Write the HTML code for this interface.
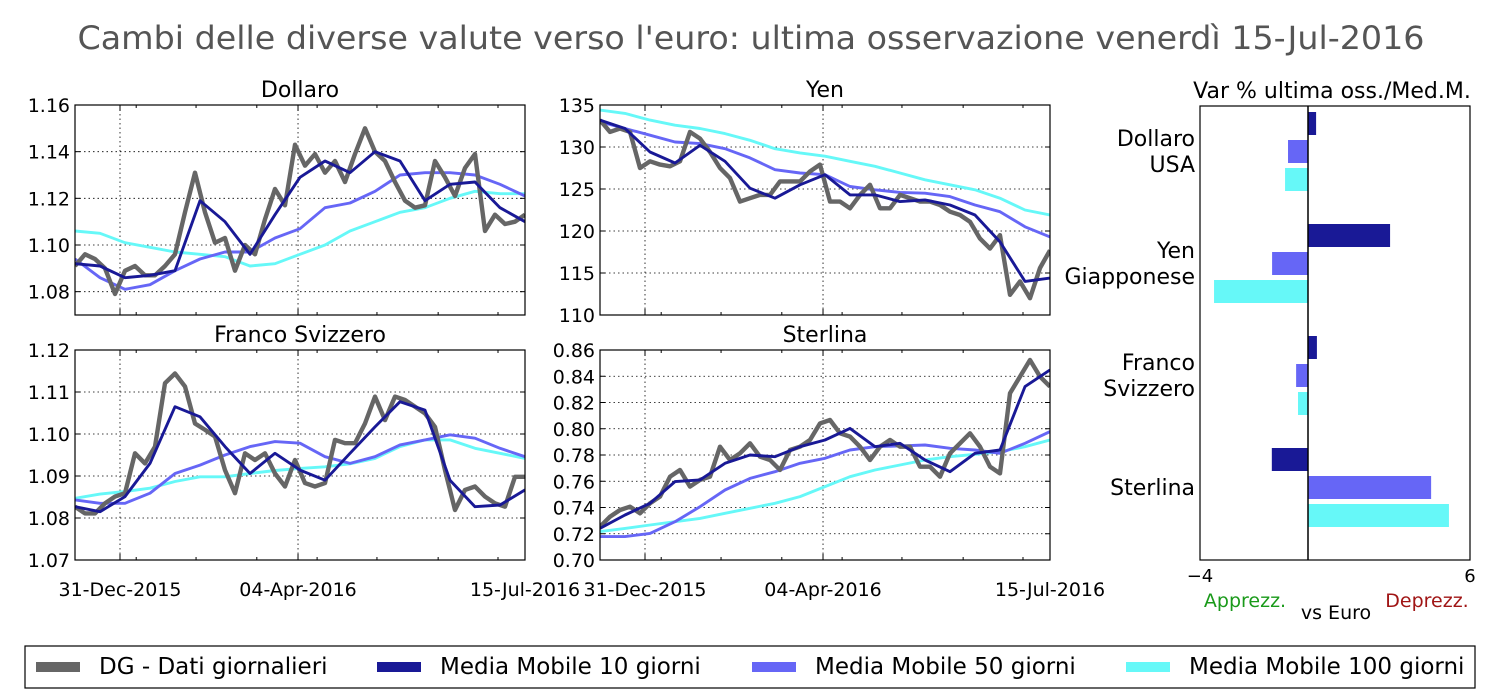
<!DOCTYPE html>
<html><head><meta charset="utf-8"><style>
html,body{margin:0;padding:0;background:#fff;}
svg{display:block;font-family:"DejaVu Sans","Liberation Sans",sans-serif;}
</style></head><body>
<svg id="fig" width="1500" height="700" viewBox="0 0 1500 700" xmlns="http://www.w3.org/2000/svg">
<text x="751" y="49" font-size="32" fill="#555" text-anchor="middle" textLength="1347" lengthAdjust="spacingAndGlyphs">Cambi delle diverse valute verso l'euro: ultima osservazione venerdì 15-Jul-2016</text>
<g id="panels"></g>
<g id="bars"></g>
<g>
<rect x="25" y="646" width="1450" height="42" fill="#fff" stroke="#000" stroke-width="1.2"/>
<g><rect x="36" y="662" width="44" height="10" fill="#666"/><text x="99" y="674" font-size="23">DG - Dati giornalieri</text></g>
<g><rect x="377" y="662" width="44" height="10" fill="#191996"/><text x="440" y="674" font-size="23">Media Mobile 10 giorni</text></g>
<g><rect x="752" y="662" width="44" height="10" fill="#6666f6"/><text x="815" y="674" font-size="23">Media Mobile 50 giorni</text></g>
<g><rect x="1126" y="662" width="44" height="10" fill="#66f8f8"/><text x="1189" y="674" font-size="23">Media Mobile 100 giorni</text></g>
</g>
</svg>
<script>
// ---- data ----
const usdDaily=[1.091,1.096,1.094,1.090,1.079,1.089,1.091,1.087,1.087,1.091,1.096,1.114,1.131,1.114,1.101,1.103,1.089,1.100,1.096,1.111,1.124,1.117,1.143,1.134,1.139,1.131,1.136,1.127,1.139,1.150,1.140,1.136,1.127,1.119,1.116,1.117,1.136,1.129,1.121,1.133,1.139,1.106,1.113,1.109,1.110,1.113];
const usdMa10=[1.092,1.091,1.086,1.087,1.089,1.119,1.110,1.096,1.113,1.129,1.136,1.131,1.140,1.136,1.119,1.126,1.127,1.116,1.110];
const usdMa50=[1.094,1.086,1.081,1.083,1.089,1.094,1.097,1.097,1.103,1.107,1.116,1.118,1.123,1.130,1.131,1.131,1.130,1.126,1.121];
const usdMa100=[1.106,1.105,1.101,1.099,1.097,1.096,1.095,1.091,1.092,1.096,1.100,1.106,1.110,1.114,1.116,1.120,1.123,1.122,1.122];
const usdTicks=["1.08","1.10","1.12","1.14","1.16"];

const jpyDaily=[133.2,131.8,132.2,131.8,127.5,128.3,127.9,127.7,128.3,131.8,131.0,129.4,127.5,126.3,123.5,123.9,124.3,124.3,125.9,125.9,125.9,127.1,127.9,123.5,123.5,122.7,124.3,125.5,122.7,122.7,124.3,123.9,123.5,123.5,123.1,122.3,121.9,121.1,119.1,117.9,119.5,112.4,114.0,112.0,115.6,117.7];
const jpyMa10=[133.2,132.2,129.4,128.1,130.2,128.3,125.1,123.9,125.5,126.7,124.3,124.3,123.5,123.7,123.1,121.9,118.7,114.0,114.4];
const jpyMa50=[133.0,132.2,131.4,130.6,130.4,129.8,128.7,127.3,126.9,126.7,125.3,124.9,124.6,124.5,124.1,123.1,122.3,120.5,119.3];
const jpyMa100=[134.4,134.0,133.2,132.6,132.2,131.6,130.8,129.8,129.3,128.9,128.3,127.7,126.9,126.1,125.5,124.9,123.9,122.5,121.9];
const jpyTicks=["110","115","120","125","130","135"];

const chfDaily=[1.0827,1.0811,1.0811,1.0835,1.0851,1.0859,1.0954,1.0930,1.0970,1.1121,1.1144,1.1113,1.1025,1.1010,1.0994,1.0914,1.0859,1.0954,1.0938,1.0954,1.0906,1.0875,1.0938,1.0883,1.0875,1.0883,1.0986,1.0978,1.0978,1.1025,1.1089,1.1033,1.1089,1.1081,1.1065,1.1049,1.1017,1.0914,1.0819,1.0867,1.0875,1.0851,1.0835,1.0827,1.0898,1.0898];
const chfMa10=[1.0827,1.0815,1.0851,1.0930,1.1065,1.1041,1.0970,1.0906,1.0954,1.0914,1.0890,1.0954,1.1017,1.1077,1.1057,1.0890,1.0827,1.0831,1.0867];
const chfMa50=[1.0843,1.0835,1.0835,1.0859,1.0906,1.0926,1.0950,1.0970,1.0982,1.0978,1.0946,1.0930,1.0946,1.0974,1.0986,1.0998,1.0990,1.0966,1.0946];
const chfMa100=[1.0847,1.0857,1.0863,1.0871,1.0887,1.0898,1.0898,1.0906,1.0913,1.0918,1.0922,1.0929,1.0942,1.0970,1.0986,1.0986,1.0966,1.0954,1.0942];
const chfTicks=["1.07","1.08","1.09","1.10","1.11","1.12"];

const gbpDaily=[0.7254,0.7330,0.7381,0.7406,0.7356,0.7432,0.7483,0.7635,0.7686,0.7559,0.7610,0.7635,0.7863,0.7762,0.7813,0.7889,0.7787,0.7762,0.7686,0.7838,0.7863,0.7914,0.8041,0.8067,0.7965,0.7940,0.7863,0.7762,0.7863,0.7914,0.7863,0.7863,0.7711,0.7711,0.7635,0.7813,0.7889,0.7965,0.7863,0.7711,0.7660,0.8270,0.8397,0.8524,0.8397,0.8321];
const gbpMa10=[0.7241,0.7343,0.7432,0.7597,0.7610,0.7737,0.7800,0.7787,0.7863,0.7914,0.8003,0.7863,0.7889,0.7762,0.7673,0.7813,0.7838,0.8321,0.8448];
const gbpMa50=[0.7178,0.7178,0.7203,0.7292,0.7406,0.7533,0.7622,0.7673,0.7737,0.7775,0.7838,0.7863,0.7869,0.7876,0.7851,0.7838,0.7813,0.7889,0.7978];
const gbpMa100=[0.7216,0.7241,0.7267,0.7292,0.7317,0.7356,0.7394,0.7432,0.7483,0.7559,0.7635,0.7686,0.7724,0.7762,0.7787,0.7805,0.7825,0.7863,0.7914];
const gbpTicks=["0.70","0.72","0.74","0.76","0.78","0.80","0.82","0.84","0.86"];

const dateLabels=["31-Dec-2015","04-Apr-2016","15-Jul-2016"];

const barCategories=[["Dollaro","USA"],["Yen","Giapponese"],["Franco","Svizzero"],["Sterlina"]];
const barMa10=[0.30,3.04,0.33,-1.34];
const barMa50=[-0.74,-1.33,-0.44,4.56];
const barMa100=[-0.85,-3.48,-0.37,5.22];
const barTicks=["−4","6"];

// ---- drawing ----
const NS="http://www.w3.org/2000/svg";
function mk(tag,attrs,parent){const e=document.createElementNS(NS,tag);for(const k in attrs)e.setAttribute(k,attrs[k]);parent.appendChild(e);return e;}
const majorFr=[0.1,0.4956,1.0];
const minorFr=[0.136,0.269,0.404,0.538,0.671,0.807,0.94];
const COL={d:"#666666",m10:"#191996",m50:"#6666f6",m100:"#66f8f8"};

function drawPanel(root,name,title,x0,y0,w,h,ymin,ymax,ticks,daily,m10,m50,m100,showDates){
  const g=mk("g",{},root);
  
  
  const sx=f=>x0+f*w;
  const sy=v=>y0+h-(v-ymin)/(ymax-ymin)*h;
  ticks.forEach(t=>{const v=parseFloat(t);const y=sy(v);
    if(Math.abs(y-y0)>0.5&&Math.abs(y-y0-h)>0.5){const l=mk("line",{x1:x0,x2:x0+w,y1:y,y2:y,stroke:"#000","stroke-width":0.8,"stroke-dasharray":"1.5,3"},g);
      }
    mk("line",{x1:x0,x2:x0+5,y1:y,y2:y,stroke:"#000"},g);
    mk("line",{x1:x0+w-5,x2:x0+w,y1:y,y2:y,stroke:"#000"},g);
    const tx=mk("text",{x:x0-5,y:y+7,"font-size":19,"text-anchor":"end"},g);tx.textContent=t;
    
  });
  majorFr.slice(0,2).forEach(f=>{const l=mk("line",{x1:sx(f),x2:sx(f),y1:y0,y2:y0+h,stroke:"#000","stroke-width":0.8,"stroke-dasharray":"1.5,3"},g);
    });
  majorFr.forEach(f=>{mk("line",{x1:sx(f),x2:sx(f),y1:y0+h,y2:y0+h-6,stroke:"#000"},g);mk("line",{x1:sx(f),x2:sx(f),y1:y0,y2:y0+6,stroke:"#000"},g);});
  minorFr.forEach(f=>{mk("line",{x1:sx(f),x2:sx(f),y1:y0+h,y2:y0+h-3,stroke:"#000"},g);mk("line",{x1:sx(f),x2:sx(f),y1:y0,y2:y0+3,stroke:"#000"},g);});
  const cp=mk("clipPath",{id:"cp-"+name},g);mk("rect",{x:x0,y:y0,width:w,height:h},cp);
  const series=[[m100,COL.m100,2.9,"ma100-line"],[m50,COL.m50,2.9,"ma50-line"],[daily,COL.d,4.4,"daily-line"],[m10,COL.m10,2.9,"ma10-line"]];
  series.forEach(([arr,c,sw,nm])=>{
    const pts=arr.map((v,i)=>sx(i/(arr.length-1)).toFixed(1)+","+sy(v).toFixed(1)).join(" ");
    const p=mk("polyline",{points:pts,fill:"none",stroke:c,"stroke-width":sw,"stroke-linejoin":"round","clip-path":"url(#cp-"+name+")"},g);
    
    
  });
  const fr=mk("rect",{x:x0,y:y0,width:w,height:h,fill:"none",stroke:"#000","stroke-width":1.2},g);
  
  const tt=mk("text",{x:x0+w/2,y:y0-8,"font-size":22,"text-anchor":"middle"},g);tt.textContent=title;
  
  if(showDates){dateLabels.forEach((d,i)=>{const t=mk("text",{x:sx(majorFr[i]),y:y0+h+36,"font-size":19,"text-anchor":"middle"},g);t.textContent=d;
    });}
}
const P=document.getElementById("panels");
drawPanel(P,"dollaro","Dollaro",75,105,450,210,1.07,1.16,usdTicks,usdDaily,usdMa10,usdMa50,usdMa100,false);
drawPanel(P,"yen","Yen",600,105,450,210,110,135,jpyTicks,jpyDaily,jpyMa10,jpyMa50,jpyMa100,false);
drawPanel(P,"franco","Franco Svizzero",75,350,450,210,1.07,1.12,chfTicks,chfDaily,chfMa10,chfMa50,chfMa100,true);
drawPanel(P,"sterlina","Sterlina",600,350,450,210,0.70,0.86,gbpTicks,gbpDaily,gbpMa10,gbpMa50,gbpMa100,true);

(function(){
  const B=document.getElementById("bars");
  const x0=1200,x1=1470,y0=106,y1=560,vmin=-4,vmax=6;
  const sx=v=>x0+(v-vmin)/(vmax-vmin)*(x1-x0);
  const grp=112,first=112,bh=23,step=28;
  const sets=[[barMa10,COL.m10,"ma10"],[barMa50,COL.m50,"ma50"],[barMa100,COL.m100,"ma100"]];
  barCategories.forEach((cat,i)=>{
    sets.forEach(([arr,c,nm],j)=>{
      const v=arr[i];const y=first+i*grp+j*step;
      const r=mk("rect",{x:Math.min(sx(0),sx(v)),y:y,width:Math.abs(sx(v)-sx(0)),height:bh,fill:c},B);
      
      
    });
    const cy=first+i*grp+39;
    const n=cat.length;
    cat.forEach((line,k)=>{
      const t=mk("text",{x:1195,y:cy+8+(k-(n-1)/2)*26,"font-size":22,"text-anchor":"end"},B);t.textContent=line;
      
    });
  });
  mk("line",{x1:sx(0),x2:sx(0),y1:y0,y2:y1,stroke:"#000","stroke-width":1.5},B);
  const fr=mk("rect",{x:x0,y:y0,width:x1-x0,height:y1-y0,fill:"none",stroke:"#000","stroke-width":1.2},B);
  
  [vmin,vmax].forEach((v,i)=>{mk("line",{x1:sx(v),x2:sx(v),y1:y1,y2:y1-6,stroke:"#000"},B);
    const t=mk("text",{x:sx(v),y:582,"font-size":18,"text-anchor":"middle"},B);t.textContent=barTicks[i];
    });
  const tt=mk("text",{x:1332,y:98,"font-size":22,"text-anchor":"middle"},B);tt.textContent="Var % ultima oss./Med.M.";
  
  const a=mk("text",{x:1245,y:607,"font-size":19,"text-anchor":"middle",fill:"#1a9a1a"},B);a.textContent="Apprezz.";
  
  const d=mk("text",{x:1427,y:607,"font-size":19,"text-anchor":"middle",fill:"#a01515"},B);d.textContent="Deprezz.";
  
  const e=mk("text",{x:1336,y:619,"font-size":19,"text-anchor":"middle"},B);e.textContent="vs Euro";
  
})();
</script>
</body></html>
